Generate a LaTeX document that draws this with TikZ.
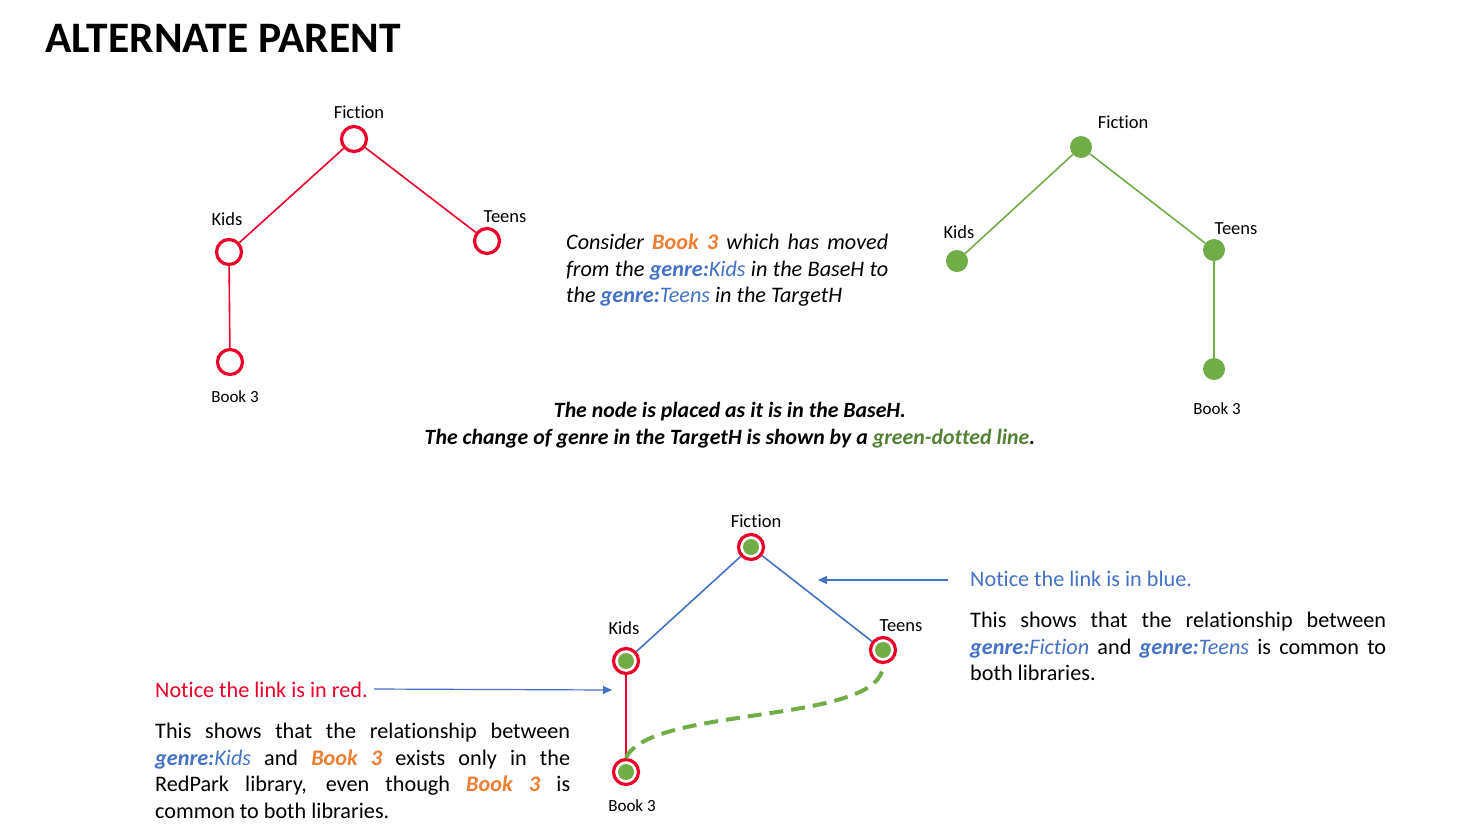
\documentclass[tikz,border=0pt]{standalone}
\usepackage{fontspec}
\setmainfont{Carlito}[Ligatures=CommonOff]
\usetikzlibrary{positioning,arrows.meta}
\definecolor{tred}{RGB}{235,0,41}
\definecolor{tgreen}{RGB}{112,173,71}
\definecolor{dgreen}{RGB}{84,130,53}
\definecolor{tblue}{RGB}{68,114,196}
\definecolor{torange}{RGB}{237,125,49}
\newcommand{\bk}{\textcolor{torange}{\textbf{\textit{Book 3}}}}
\newcommand{\gen}[1]{\textcolor{tblue}{\textit{\textbf{genre:}#1}}}
\tikzset{
	ring/.style={circle, draw=tred, line width=3.2pt, minimum size=25pt, inner sep=0pt},
	dot/.style={circle, fill=tgreen, minimum size=22pt, inner sep=0pt},
	both/.style={ring, path picture={\fill[tgreen] (path picture bounding box.center) circle (8pt);}},
	lbl/.style={font=\fontsize{18.5}{20}\selectfont, inner sep=0pt},
	booklbl/.style={lbl, font=\fontsize{17}{20}\selectfont},
	body/.style={font=\fontsize{22.2}{26.5}\selectfont, inner sep=0pt, align=justify, anchor=north west}
}
\begin{document}
\begin{tikzpicture}[x=1pt, y=-1pt]
		\useasboundingbox (0,0) rectangle (1482,831);
		% Title
		\node[anchor=base west, inner sep=0pt, font=\fontsize{43.5}{50}\selectfont\bfseries] (title) at (45,52) {ALTERNATE PARENT};

		% BaseH tree
		\node[ring] (f1) at (354,139) {};
		\node[ring] (k1) at (229,252) {};
		\node[ring] (t1) at (487,241) {};
		\node[ring] (b1) at (230,362) {};
		\node[lbl] (f1l) at (359,112) {Fiction};
		\node[lbl] (k1l) at (227,219) {Kids};
		\node[lbl] (t1l) at (505,217) {Teens};
		\node[booklbl] (b1l) at (235,397) {Book 3};
		\draw[tred, line width=1.6pt] (f1) -- (k1);
		\draw[tred, line width=1.6pt] (f1) -- (t1);
		\draw[tred, line width=1.6pt] (k1) -- (b1);

		% TargetH tree
		\node[dot] (f2) at (1081,147) {};
		\node[dot] (k2) at (957,261) {};
		\node[dot] (t2) at (1214,250) {};
		\node[dot] (b2) at (1214,369) {};
		\node[lbl] (f2l) at (1123,122) {Fiction};
		\node[lbl] (k2l) at (959,232) {Kids};
		\node[lbl] (t2l) at (1236,229) {Teens};
		\node[booklbl] (b2l) at (1217,409) {Book 3};
		\draw[tgreen, line width=1.6pt] (f2) -- (k2);
		\draw[tgreen, line width=1.6pt] (f2) -- (t2);
		\draw[tgreen, line width=1.6pt] (t2) -- (b2);

		% Texts in between
		\node[body, text width=322pt, font=\fontsize{22.2}{26.5}\selectfont\itshape] (move) at (566,234) {Consider \bk{} which has moved from the \gen{Kids} in the BaseH to the \gen{Teens} in the TargetH};
		\node[inner sep=0pt, align=center, font=\fontsize{21.8}{27}\selectfont\bfseries\itshape] (note) at (730,425) {The node is placed as it is in the BaseH.\\The change of genre in the TargetH is shown by a \textcolor{dgreen}{green-dotted line}.};

		% Merged tree
		\node[both] (f3) at (751,547) {};
		\node[both] (k3) at (626,661) {};
		\node[both] (t3) at (883,650) {};
		\node[both] (b3) at (626,772) {};
		\node[lbl] (f3l) at (756,521) {Fiction};
		\node[lbl] (k3l) at (624,628) {Kids};
		\node[lbl] (t3l) at (901,626) {Teens};
		\node[booklbl] (b3l) at (632,806) {Book 3};
		\draw[tblue, line width=1.6pt] (f3) -- (k3);
		\draw[tblue, line width=1.6pt] (f3) -- (t3);
		\draw[tred, line width=1.6pt] (k3) -- (b3);
		\draw[tgreen, line width=4pt, dash pattern=on 14pt off 8pt] (b3.north) .. controls (650,705) and (885,725) .. (t3.south);

		% Notes on the right
		\node[anchor=base west, inner sep=0pt, text=tblue, font=\fontsize{22.2}{26.5}\selectfont] (blue) at (970,586) {Notice the link is in blue.};
		\node[body, text width=416pt] (bluetxt) at (970,612) {This shows that the relationship between \gen{Fiction} and \gen{Teens} is common to both libraries.};
		\coordinate (ba) at (948,580);
		\coordinate (bb) at (818,580);
		\draw[tblue, line width=1.2pt, -{Triangle[length=9pt, width=8pt]}] (ba) -- (bb);

		% Notes on the left
		\node[anchor=base west, inner sep=0pt, text=tred, font=\fontsize{22.2}{26.5}\selectfont] (red) at (155,697) {Notice the link is in red.};
		\node[body, text width=415pt] (redtxt) at (155,723) {This shows that the relationship between \gen{Kids} and \bk{} exists only in the\linebreak RedPark library, even though \bk{} is\linebreak common to both libraries.};
		\coordinate (ra) at (374,689);
		\coordinate (rb) at (612,690);
		\draw[tblue, line width=1.2pt, -{Triangle[length=9pt, width=8pt]}] (ra) -- (rb);
	\end{tikzpicture}
\end{document}
